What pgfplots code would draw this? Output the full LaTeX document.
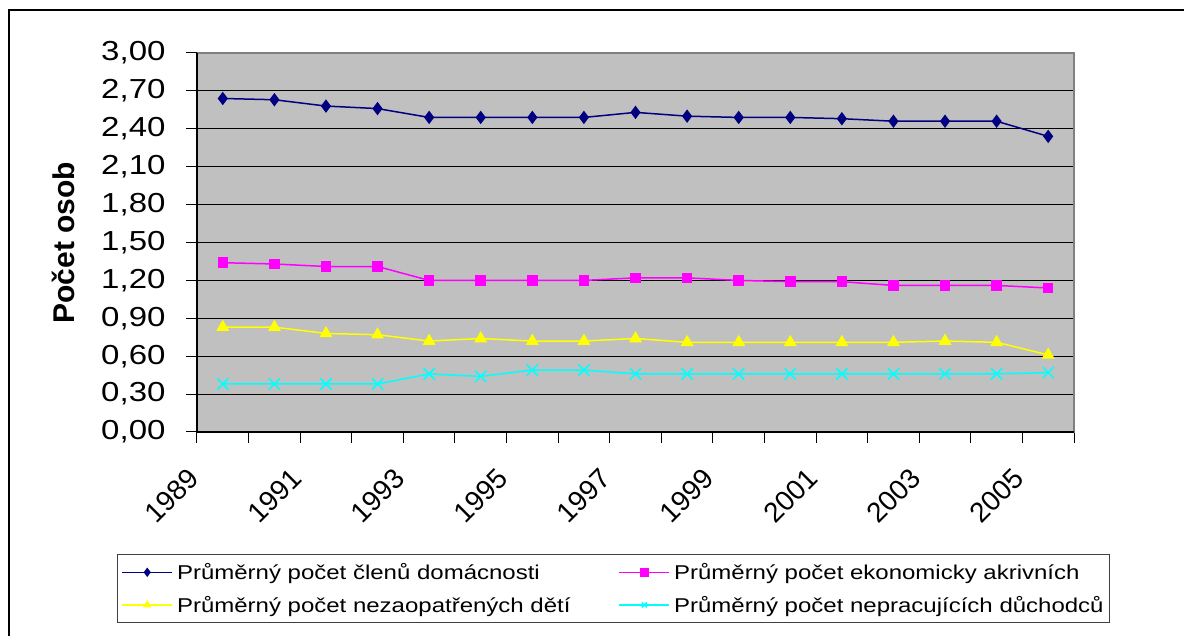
\documentclass[border=0pt]{standalone}
\usepackage{pgfplots}
\pgfplotsset{compat=1.18}
\usepackage{fontspec}
\setmainfont[FakeStretch=1.2]{Liberation Sans}
\newfontfamily\plainsans{Liberation Sans}
\definecolor{plotgray}{HTML}{C0C0C0}
\definecolor{bordergray}{HTML}{808080}
\definecolor{navyc}{HTML}{000080}
\definecolor{magc}{HTML}{FF00FF}
\definecolor{yelc}{HTML}{FFFF00}
\definecolor{cyac}{HTML}{00FFFF}
\begin{document}
\begin{tikzpicture}[x=1pt,y=1pt]
\path[use as bounding box] (0,0) rectangle (1184,635);
\draw[line width=2pt, black] (9,-5) -- (9,625) -- (1190,625);
\begin{axis}[
  at={(197pt,203pt)}, anchor=south west,
  width=877pt, height=379pt, scale only axis,
  xmin=-0.5, xmax=16.5, ymin=0, ymax=3,
  clip=false,
  axis background/.style={fill=plotgray},
  axis line style={draw=bordergray, line width=1.5pt},
  ytick={0,0.3,...,3.01},
  ymajorgrids, major grid style={black, line width=1pt},
  xtick={0,2,4,6,8,10,12,14,16},
  xticklabels={1989,1991,1993,1995,1997,1999,2001,2003,2005},
  every major x tick/.style={draw=none},
  minor xtick={-0.5,0.5,...,16.6},
  minor tick length=11pt,
  major tick length=11pt,
  tick align=outside,
  tick style={black, line width=1pt},
  xtick pos=bottom, ytick pos=left,
  yticklabel style={font=\fontsize{27.5}{30}\selectfont, anchor=east, xshift=-17pt,
    /pgf/number format/.cd, fixed, fixed zerofill, precision=2, use comma, assume math mode=true},
  xticklabel style={font=\plainsans\fontsize{28}{30}\selectfont, xshift=-27pt, yshift=-28pt, rotate=45, anchor=east,
    /pgf/number format/assume math mode=true},
  ylabel={Počet osob},
  ylabel style={at={(axis description cs:-0.1528,0.5)}, anchor=center, font=\plainsans\bfseries\fontsize{30}{36}\selectfont},
  legend columns=2,
  legend style={at={(axis description cs:-0.0912,-0.3219)}, anchor=north west,
    draw=black!75, line width=1pt, fill=white,
    font=\fontsize{20}{24}\selectfont,
    /tikz/every even column/.append style={column sep=46pt},
    /tikz/every odd column/.append style={column sep=2pt},
    row sep=11pt, inner xsep=4pt, inner ysep=7pt},
  legend cell align=left,
  legend image code/.code={\draw[mark repeat=2,mark phase=2,#1,mark size=3.5pt] plot coordinates {(0pt,0pt) (25pt,0pt) (50pt,0pt)};},
]
\addplot[color=navyc, line width=1.5pt, mark=diamond*, mark size=5.5pt, mark options={solid, fill=navyc}] coordinates {
(0,2.64) (1,2.63) (2,2.58) (3,2.56) (4,2.49) (5,2.49) (6,2.49) (7,2.49) (8,2.53)
(9,2.50) (10,2.49) (11,2.49) (12,2.48) (13,2.46) (14,2.46) (15,2.46) (16,2.34)};
\addlegendentry{Průměrný počet členů domácnosti}
\addplot[color=magc, line width=1.5pt, mark=square*, mark size=4.5pt, mark options={solid, fill=magc}] coordinates {
(0,1.34) (1,1.33) (2,1.31) (3,1.31) (4,1.20) (5,1.20) (6,1.20) (7,1.20) (8,1.22)
(9,1.22) (10,1.20) (11,1.19) (12,1.19) (13,1.16) (14,1.16) (15,1.16) (16,1.14)};
\addlegendentry{Průměrný počet ekonomicky akrivních}
\addplot[color=yelc, line width=1.5pt, mark=triangle*, mark size=6pt, mark options={solid, fill=yelc}] coordinates {
(0,0.83) (1,0.83) (2,0.78) (3,0.77) (4,0.72) (5,0.74) (6,0.72) (7,0.72) (8,0.74)
(9,0.71) (10,0.71) (11,0.71) (12,0.71) (13,0.71) (14,0.72) (15,0.71) (16,0.61)};
\addlegendentry{Průměrný počet nezaopatřených dětí}
\addplot[color=cyac, line width=1.5pt, mark=x, mark size=8pt, mark options={solid, line width=1.5pt}] coordinates {
(0,0.38) (1,0.38) (2,0.38) (3,0.38) (4,0.46) (5,0.44) (6,0.49) (7,0.49) (8,0.46)
(9,0.46) (10,0.46) (11,0.46) (12,0.46) (13,0.46) (14,0.46) (15,0.46) (16,0.47)};
\addlegendentry{Průměrný počet nepracujících důchodců}
\draw[black, line width=1.5pt] (rel axis cs:0,1) -- (rel axis cs:0,0) -- (rel axis cs:1,0);
\pgfplotsinvokeforeach{0,0.3,0.6,0.9,1.2,1.5,1.8,2.1,2.4,2.7,3.0}{
  \draw[black, line width=1pt] (axis cs:-0.5,#1) -- ++(-11pt,0pt);
}
\end{axis}
\end{tikzpicture}
\end{document}
